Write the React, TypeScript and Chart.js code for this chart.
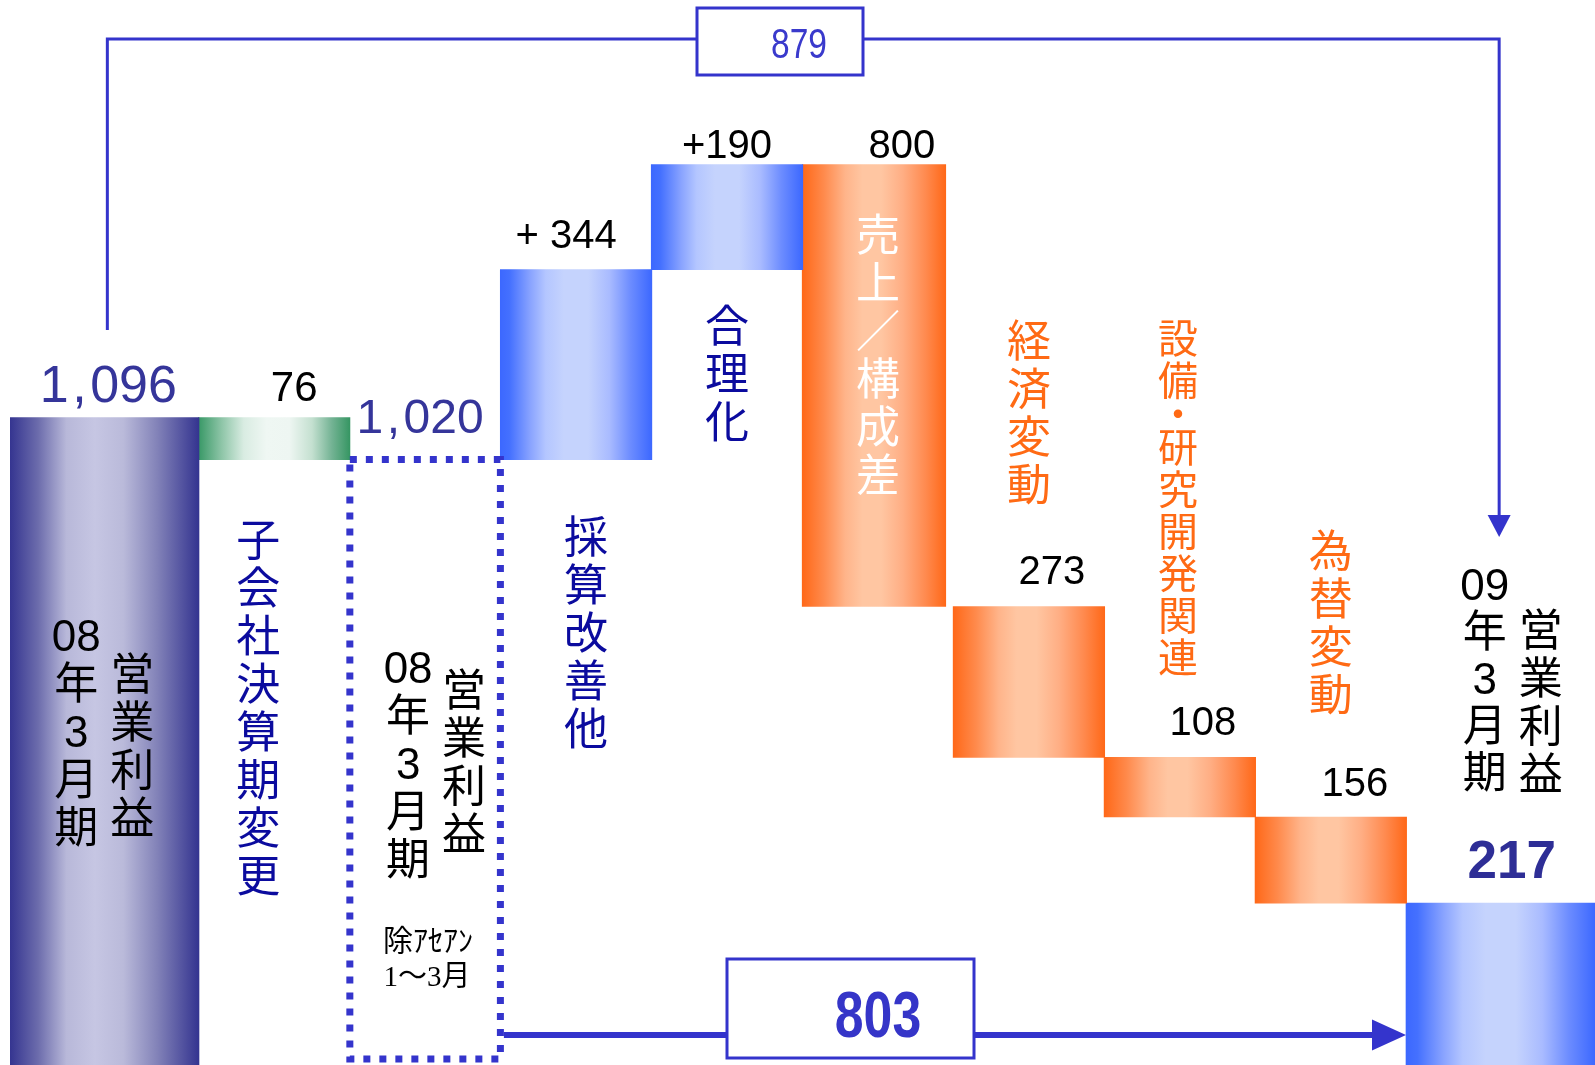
import { useEffect, useRef } from 'react';
import { Chart, registerables } from 'chart.js';

Chart.register(...registerables);

// ---------- data ----------
const CATEGORIES = [
  '08年3月期 営業利益',
  '子会社決算期変更',
  '08年3月期 営業利益',
  '採算改善他',
  '合理化',
  '売上／構成差',
  '経済変動',
  '設備・研究開発関連',
  '為替変動',
  '09年3月期 営業利益',
];
const DELTAS = [1096, -76, 1020, 344, 190, -800, -273, -108, -156, 217];
const IS_TOTAL = [true, false, true, false, false, false, false, false, false, true];
const VALUE_LABELS = ['1,096', '76', '1,020', '+ 344', '+190', '800', '273', '108', '156', '217'];
const NOTE_LINES = ['除ｱｾｱﾝ', '1～3月'];
const BRIDGE_LABELS = ['879', '803'];

// ---------- layout / style ----------
const W = 1595;
const H = 1065;
const PAD_LEFT = 10;
const Y_MIN = -76;
const Y_MAX = 1852;
const SLOT_UNITS = [1.25, 1, 1, 1, 1, 1, 1, 1, 1, 1.25];
const BAR_FRACTION = [1, 1, 1, 1, 1, 0.947, 1, 1, 1, 1];
const BAR_LEFT_ALIGN = [false, false, false, false, false, true, false, false, false, false];
const KIND = ['navy', 'green', 'outline', 'blue', 'blue', 'orange', 'orange', 'orange', 'orange', 'blue'];

const STOPS: Record<string, [number, string][]> = {
  navy: [[0, '#343490'], [0.15, '#6c6cac'], [0.3, '#b8b8d9'], [0.45, '#c6c6e3'], [0.6, '#babada'], [0.78, '#8282b8'], [1, '#343490']],
  green: [[0, '#389866'], [0.15, '#8cc4a6'], [0.3, '#d9ece2'], [0.45, '#eff7f3'], [0.6, '#eef6f2'], [0.75, '#c4e0d0'], [0.88, '#74b394'], [1, '#369663']],
  blue: [[0, '#3c68ff'], [0.06, '#4470ff'], [0.2, '#8aa4ff'], [0.3, '#b4c6ff'], [0.42, '#c5d3fd'], [0.58, '#c5d3fd'], [0.72, '#a9bbff'], [0.86, '#6c8cff'], [1, '#3c68ff']],
  orange: [[0, '#ff6818'], [0.15, '#ff8a4c'], [0.3, '#ffb48a'], [0.42, '#ffc6a2'], [0.55, '#ffc6a2'], [0.7, '#ffae84'], [0.86, '#ff8a4f'], [1, '#ff6818']],
};

const LABEL_DX = [4, 20, -5, -10, 0, 28, 23, 23, 24, 11];
const LABEL_DY = [-16, -17, -27, -22, -7, -7, -23, -22, -21, -25];
const LABEL_FONT = ['52px', '42px', '48px', '40px', '40px', '40px', '40px', '40px', '40px', 'bold 53px'];
const LABEL_COLOR = ['#35359a', '#000', '#35359a', '#000', '#000', '#000', '#000', '#000', '#000', '#2e2e96'];
const COMMA_GAP = 3.5;

const NAVY_TXT = '#0b0b9e';
const ORANGE_TXT = '#ff6a14';
const LINE_BLUE = '#3434cc';
const SANS = '"Liberation Sans", "Noto Sans CJK JP", sans-serif';

// vertical label columns: [bar, column index, dx from bar centre, first cell centre y, pitch, size, colour]
const COLUMNS: [number, number, number, number, number, number, string][] = [
  [0, 0, -28, 639, 48, 44, '#000'],
  [0, 1, 28, 678, 48, 44, '#000'],
  [1, 0, -16, 544, 48, 44, NAVY_TXT],
  [2, 0, -17, 671, 48, 44, '#000'],
  [2, 1, 39, 694, 48, 44, '#000'],
  [3, 0, 10, 541, 48, 44, NAVY_TXT],
  [4, 0, 0, 330, 48, 44, NAVY_TXT],
  [5, 0, 4, 239, 48, 44, '#ffffff'],
  [6, 0, 0, 345, 48, 44, ORANGE_TXT],
  [7, 0, -2, 342, 42, 40, ORANGE_TXT],
  [8, 0, 0, 555, 48, 44, ORANGE_TXT],
  [9, 0, -16, 588, 47, 44, '#000'],
  [9, 1, 40, 634, 48, 44, '#000'],
];

// ---------- derived ----------
const TOTAL_UNITS = SLOT_UNITS.reduce((a, b) => a + b, 0);
const UNIT_PX = (W - PAD_LEFT) / TOTAL_UNITS;
const CENTERS: number[] = [];
{
  let acc = 0;
  SLOT_UNITS.forEach((u, i) => {
    const w = u * BAR_FRACTION[i];
    CENTERS.push(BAR_LEFT_ALIGN[i] ? acc + w / 2 : acc + u / 2);
    acc += u;
  });
}
const THICKNESS = SLOT_UNITS.map((u, i) => u * BAR_FRACTION[i] * UNIT_PX + 0.6);
const RANGES: [number, number][] = [];
{
  let running = 0;
  DELTAS.forEach((d, i) => {
    if (IS_TOTAL[i]) {
      running = d;
      RANGES.push([Y_MIN, d]);
    } else {
      const from = running;
      running += d;
      RANGES.push([Math.min(from, running), Math.max(from, running)]);
    }
  });
}

function drawVertical(ctx: CanvasRenderingContext2D, text: string, x: number, y0: number, pitch: number) {
  const cells = text.match(/[0-9]+|./gu) || [];
  let y = y0;
  let prevH = 0;
  cells.forEach((c, i) => {
    const h = c === '・' ? pitch * 0.6 : pitch;
    if (i > 0) y += (prevH + h) / 2;
    ctx.fillText(c, x, y);
    prevH = h;
  });
}

// draws a number whose thousands comma is set with extra space around it, centred on x
function drawSpacedNumber(ctx: CanvasRenderingContext2D, text: string, x: number, y: number) {
  const parts = text.split(',');
  if (parts.length === 1) {
    ctx.textAlign = 'center';
    ctx.fillText(text, x, y);
    return;
  }
  const pieces: string[] = [];
  parts.forEach((p, i) => {
    if (i > 0) pieces.push(',');
    pieces.push(p);
  });
  const widths = pieces.map((p) => ctx.measureText(p).width);
  const total = widths.reduce((a, b) => a + b, 0) + COMMA_GAP * (pieces.length - 1);
  let cx = x - total / 2;
  ctx.textAlign = 'left';
  pieces.forEach((p, i) => {
    ctx.fillText(p, cx, y);
    cx += widths[i] + COMMA_GAP;
  });
  ctx.textAlign = 'center';
}

function drawNarrow(ctx: CanvasRenderingContext2D, text: string, x: number, y: number, sx: number) {
  ctx.save();
  ctx.translate(x, y);
  ctx.scale(sx, 1);
  ctx.textAlign = 'center';
  ctx.fillText(text, 0, 0);
  ctx.restore();
}

function arrowHead(ctx: CanvasRenderingContext2D, tipX: number, tipY: number, dir: 'right' | 'down', len: number, half: number) {
  ctx.beginPath();
  if (dir === 'right') {
    ctx.moveTo(tipX, tipY);
    ctx.lineTo(tipX - len, tipY - half);
    ctx.lineTo(tipX - len, tipY + half);
  } else {
    ctx.moveTo(tipX, tipY);
    ctx.lineTo(tipX - half, tipY - len);
    ctx.lineTo(tipX + half, tipY - len);
  }
  ctx.closePath();
  ctx.fill();
}

const overlay = {
  id: 'overlay',
  afterDatasetsDraw(chart: any) {
    const ctx: CanvasRenderingContext2D = chart.ctx;
    const area = chart.chartArea;
    const box = (i: number) => {
      const el = chart.getDatasetMeta(i).data[0];
      const p = el.getProps(['x', 'y', 'base', 'width'], true);
      return {
        cx: p.x,
        left: p.x - p.width / 2,
        right: p.x + p.width / 2,
        top: Math.min(p.y, p.base),
        bottom: Math.max(p.y, p.base),
      };
    };
    const bars = CATEGORIES.map((_, i) => box(i));
    ctx.save();

    // dotted frame of the "excluding ASEAN" bar
    const b3 = bars[2];
    ctx.strokeStyle = LINE_BLUE;
    ctx.lineWidth = 7;
    ctx.setLineDash([7, 9]);
    ctx.strokeRect(b3.left + 0.5, b3.top, b3.right - b3.left - 1, area.bottom - 6 - b3.top);
    ctx.setLineDash([]);

    // value labels
    ctx.textAlign = 'center';
    ctx.textBaseline = 'alphabetic';
    VALUE_LABELS.forEach((t, i) => {
      ctx.font = `${LABEL_FONT[i]} ${SANS}`;
      ctx.fillStyle = LABEL_COLOR[i];
      drawSpacedNumber(ctx, t, bars[i].cx + LABEL_DX[i], bars[i].top + LABEL_DY[i]);
    });

    // vertical category labels
    ctx.textAlign = 'center';
    ctx.textBaseline = 'middle';
    COLUMNS.forEach(([bi, col, dx, y0, pitch, size, color]) => {
      const text = CATEGORIES[bi].split(' ')[col];
      ctx.font = `${size}px ${SANS}`;
      ctx.fillStyle = color;
      drawVertical(ctx, text, bars[bi].cx + dx, area.top + y0, pitch);
    });

    // note under the dotted bar
    ctx.textBaseline = 'alphabetic';
    ctx.fillStyle = '#000';
    ctx.font = `30px "Liberation Serif", "Noto Sans CJK JP", serif`;
    ctx.fillText(NOTE_LINES[0], b3.cx + 3, area.top + 951);
    ctx.font = `29px "Liberation Serif", "Noto Sans CJK JP", serif`;
    ctx.fillText(NOTE_LINES[1], b3.cx + 2, area.top + 986);

    // top bridge 1,096 -> 217
    const topY = area.top + 39;
    const lx = bars[0].cx + 3;
    const rx = bars[9].cx - 1.5;
    ctx.strokeStyle = LINE_BLUE;
    ctx.fillStyle = LINE_BLUE;
    ctx.lineWidth = 3;
    ctx.beginPath();
    ctx.moveTo(lx, area.top + 330);
    ctx.lineTo(lx, topY);
    ctx.lineTo(rx, topY);
    ctx.lineTo(rx, area.top + 516);
    ctx.stroke();
    arrowHead(ctx, rx, area.top + 537, 'down', 22, 11.5);
    ctx.fillStyle = '#fff';
    ctx.fillRect(697, area.top + 8, 166, 67);
    ctx.strokeRect(697, area.top + 8, 166, 67);
    ctx.fillStyle = '#3a3acc';
    ctx.font = `43px ${SANS}`;
    drawNarrow(ctx, BRIDGE_LABELS[0], 799, area.top + 58, 0.78);

    // bottom bridge 1,020 -> 217
    const botY = area.bottom - 30;
    ctx.fillStyle = LINE_BLUE;
    ctx.lineWidth = 6;
    ctx.beginPath();
    ctx.moveTo(b3.right + 3, botY);
    ctx.lineTo(bars[9].left - 30, botY);
    ctx.stroke();
    arrowHead(ctx, bars[9].left, botY, 'right', 34, 15.5);
    ctx.lineWidth = 3;
    ctx.fillStyle = '#fff';
    ctx.fillRect(727, area.top + 959, 247, 99);
    ctx.strokeRect(727, area.top + 959, 247, 99);
    ctx.fillStyle = '#3535c8';
    ctx.font = `bold 64px ${SANS}`;
    drawNarrow(ctx, BRIDGE_LABELS[1], 878, area.top + 1037, 0.81);

    ctx.restore();
  },
};

export default function App() {
  const ref = useRef<HTMLCanvasElement | null>(null);

  useEffect(() => {
    if (!ref.current) return;
    const datasets = CATEGORIES.map((label, i) => ({
      label,
      data: [{ x: CENTERS[i], y: RANGES[i] }],
      barThickness: THICKNESS[i],
      grouped: false,
      borderWidth: 0,
      borderSkipped: false,
      backgroundColor: (c: any) => {
        const kind = KIND[i];
        if (kind === 'outline') return 'rgba(0,0,0,0)';
        const chart = c.chart;
        const xs = chart.scales && chart.scales.x;
        if (!chart.chartArea || !xs) return STOPS[kind][3][1];
        const cx = xs.getPixelForValue(CENTERS[i]);
        const half = THICKNESS[i] / 2;
        const g = chart.ctx.createLinearGradient(cx - half, 0, cx + half, 0);
        STOPS[kind].forEach(([o, col]) => g.addColorStop(o, col));
        return g;
      },
    }));

    const chart = new Chart(ref.current, {
      type: 'bar',
      data: { datasets } as any,
      options: {
        animation: false,
        responsive: true,
        maintainAspectRatio: false,
        events: [],
        layout: { padding: { left: PAD_LEFT, right: 0, top: 0, bottom: 0 } },
        plugins: {
          legend: { display: false },
          tooltip: { enabled: false },
          title: { display: false },
        },
        scales: {
          x: { type: 'linear', min: 0, max: TOTAL_UNITS, display: false, offset: false },
          y: { type: 'linear', min: Y_MIN, max: Y_MAX, display: false },
        },
      } as any,
      plugins: [overlay],
    });
    return () => chart.destroy();
  }, []);

  return (
    <div style={{ position: 'absolute', left: 0, top: 0, width: W, height: H, background: '#fff' }}>
      <canvas ref={ref} style={{ width: '100%', height: '100%' }} />
    </div>
  );
}
